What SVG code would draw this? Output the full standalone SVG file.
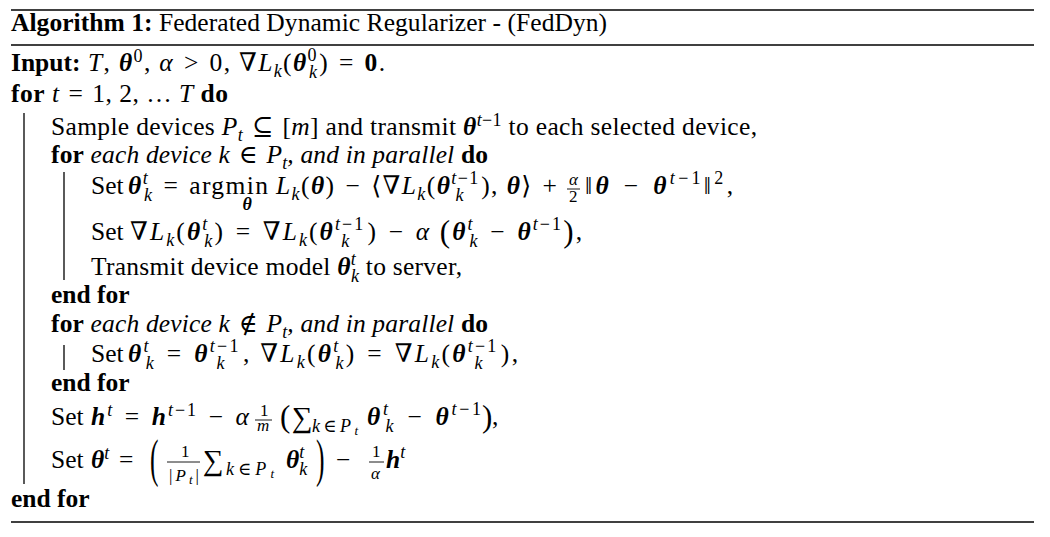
<svg xmlns="http://www.w3.org/2000/svg" width="1050" height="537" viewBox="0 0 1050 537">
<style>
text{font-family:"Liberation Serif","DejaVu Serif",serif;font-size:25.5px;fill:#000}
.b{font-weight:bold}
.i{font-style:italic}
.bi{font-weight:bold;font-style:italic}
.s{font-size:18px}
.f{font-size:17px}
.ss{font-size:13px}
.bp{font-size:31px}
.sum{font-size:29px}
.rule{stroke:#000;stroke-width:1.6}
.bar{stroke:#000;stroke-width:1.3}
.fb{stroke:#000;stroke-width:0.9}
</style>
<rect width="1050" height="537" fill="#fff"/>
<g id="rules">
<line class="rule" x1="11" y1="10" x2="1034" y2="10"/>
<line class="rule" x1="11" y1="45" x2="1034" y2="45"/>
<line class="rule" x1="11" y1="522" x2="1034" y2="522"/>
</g>
<g id="blocks">
<line class="bar" x1="24" y1="113" x2="24" y2="484"/>
<line class="bar" x1="64" y1="172" x2="64" y2="280"/>
<line class="bar" x1="64" y1="345" x2="64" y2="370"/>
</g>
<g id="title"><text x="11" y="31" textLength="596" lengthAdjust="spacing"><tspan class="b">Algorithm 1:</tspan> Federated Dynamic Regularizer - (FedDyn)</text></g>
<g id="input"><text class="b" x="11" y="71">Input:</text><text x="88" y="71" textLength="297" lengthAdjust="spacing"><tspan class="i">T</tspan>, <tspan class="bi">θ</tspan><tspan class="s" dy="-9">0</tspan><tspan dy="9">, </tspan><tspan class="i">α</tspan>&#x2004;&gt;&#x2004;0, ∇<tspan class="i">L</tspan><tspan class="s i" dy="6">k</tspan><tspan dy="-6">(</tspan><tspan class="bi">θ</tspan><tspan class="s" dy="-10">0</tspan><tspan class="s i" dx="-9" dy="17">k</tspan><tspan dx="1" dy="-7">)&#x2004;=&#x2004;</tspan><tspan class="b">0</tspan>.</text></g>
<g id="for-t"><text x="11" y="102" textLength="217" lengthAdjust="spacing"><tspan class="b">for</tspan> <tspan class="i">t</tspan>&#x2004;=&#x2004;1, 2, … <tspan class="i">T</tspan> <tspan class="b">do</tspan></text></g>
<g id="sample"><text x="51" y="135" textLength="706" lengthAdjust="spacing">Sample devices <tspan class="i">P</tspan><tspan class="s i" dy="6">t</tspan><tspan dy="-6">&#x2004;⊆&#x2004;[</tspan><tspan class="i">m</tspan>] and transmit <tspan class="bi">θ</tspan><tspan class="s" dy="-9"><tspan class="i">t</tspan>−1</tspan><tspan dy="9"> to each selected device,</tspan></text></g>
<g id="for-in"><text x="51" y="163" textLength="437" lengthAdjust="spacing"><tspan class="b">for</tspan> <tspan class="i">each device k</tspan>&#x2004;∈&#x2004;<tspan class="i">P</tspan><tspan class="s i" dy="6">t</tspan><tspan class="i" dy="-6">, and in parallel</tspan> <tspan class="b">do</tspan></text></g>
<g id="set-argmin"><text x="91" y="194">Set</text><text x="128" y="194" textLength="429" lengthAdjust="spacing"><tspan class="bi">θ</tspan><tspan class="s i" dy="-10">t</tspan><tspan class="s i" dx="-5" dy="17">k</tspan><tspan dy="-7">&#x2004;=&#x2004;argmin</tspan><tspan class="bi s" dx="-27" dy="16">θ</tspan><tspan dx="15" dy="-16"> </tspan><tspan class="i">L</tspan><tspan class="s i" dy="6">k</tspan><tspan dy="-6">(</tspan><tspan class="bi">θ</tspan>)&#x2004;−&#x2004;⟨∇<tspan class="i">L</tspan><tspan class="s i" dy="6">k</tspan><tspan dy="-6">(</tspan><tspan class="bi">θ</tspan><tspan class="s" dy="-10"><tspan class="i">t</tspan>−1</tspan><tspan class="s i" dx="-24.2" dy="17">k</tspan><tspan dx="16.2" dy="-7">), </tspan><tspan class="bi">θ</tspan>⟩&#x2004;+</text><text class="f i" x="569" y="185">α</text><line class="fb" x1="567" y1="189" x2="580" y2="189"/><text class="f" x="569" y="202">2</text><text x="585" y="194" textLength="148" lengthAdjust="spacing">‖<tspan class="bi">θ</tspan>&#x2004;−&#x2004;<tspan class="bi">θ</tspan><tspan class="s" dy="-10"><tspan class="i">t</tspan>−1</tspan><tspan dy="10">‖</tspan><tspan class="s" dy="-10">2</tspan><tspan dy="10">,</tspan></text></g>
<g id="set-grad"><text x="91" y="240">Set</text><text x="130" y="240" textLength="452" lengthAdjust="spacing">∇<tspan class="i">L</tspan><tspan class="s i" dy="6">k</tspan><tspan dy="-6">(</tspan><tspan class="bi">θ</tspan><tspan class="s i" dy="-10">t</tspan><tspan class="s i" dx="-5" dy="17">k</tspan><tspan dy="-7">)&#x2004;=&#x2004;∇</tspan><tspan class="i">L</tspan><tspan class="s i" dy="6">k</tspan><tspan dy="-6">(</tspan><tspan class="bi">θ</tspan><tspan class="s" dy="-10"><tspan class="i">t</tspan>−1</tspan><tspan class="s i" dx="-24.2" dy="17">k</tspan><tspan dx="16.2" dy="-7">)&#x2004;−&#x2004;</tspan><tspan class="i">α</tspan> <tspan class="bp" dy="2">(</tspan><tspan class="bi" dy="-2">θ</tspan><tspan class="s i" dy="-10">t</tspan><tspan class="s i" dx="-5" dy="17">k</tspan><tspan dy="-7">&#x2004;−&#x2004;</tspan><tspan class="bi">θ</tspan><tspan class="s" dy="-10"><tspan class="i">t</tspan>−1</tspan><tspan class="bp" dy="12">)</tspan><tspan dy="-2">,</tspan></text></g>
<g id="transmit"><text x="91" y="275" textLength="371" lengthAdjust="spacing">Transmit device model <tspan class="bi">θ</tspan><tspan class="s i" dy="-10">t</tspan><tspan class="s i" dx="-5" dy="17">k</tspan><tspan dy="-7"> to server,</tspan></text></g>
<g id="endfor1"><text class="b" x="51" y="303">end for</text></g>
<g id="for-notin"><text x="51" y="332" textLength="437" lengthAdjust="spacing"><tspan class="b">for</tspan> <tspan class="i">each device k</tspan>&#x2004;∉&#x2004;<tspan class="i">P</tspan><tspan class="s i" dy="6">t</tspan><tspan class="i" dy="-6">, and in parallel</tspan> <tspan class="b">do</tspan></text></g>
<g id="set-copy"><text x="91" y="362">Set</text><text x="128" y="362" textLength="390" lengthAdjust="spacing"><tspan class="bi">θ</tspan><tspan class="s i" dy="-10">t</tspan><tspan class="s i" dx="-5" dy="17">k</tspan><tspan dy="-7">&#x2004;=&#x2004;</tspan><tspan class="bi">θ</tspan><tspan class="s" dy="-10"><tspan class="i">t</tspan>−1</tspan><tspan class="s i" dx="-24.2" dy="17">k</tspan><tspan dx="16.2" dy="-7">, ∇</tspan><tspan class="i">L</tspan><tspan class="s i" dy="6">k</tspan><tspan dy="-6">(</tspan><tspan class="bi">θ</tspan><tspan class="s i" dy="-10">t</tspan><tspan class="s i" dx="-5" dy="17">k</tspan><tspan dy="-7">)&#x2004;=&#x2004;∇</tspan><tspan class="i">L</tspan><tspan class="s i" dy="6">k</tspan><tspan dy="-6">(</tspan><tspan class="bi">θ</tspan><tspan class="s" dy="-10"><tspan class="i">t</tspan>−1</tspan><tspan class="s i" dx="-24.2" dy="17">k</tspan><tspan dx="16.2" dy="-7">),</tspan></text></g>
<g id="endfor2"><text class="b" x="51" y="391">end for</text></g>
<g id="set-h"><text x="51" y="425">Set</text><text x="91" y="425" textLength="158" lengthAdjust="spacing"><tspan class="bi">h</tspan><tspan class="s i" dy="-9">t</tspan><tspan dy="9">&#x2004;=&#x2004;</tspan><tspan class="bi">h</tspan><tspan class="s" dy="-9"><tspan class="i">t</tspan>−1</tspan><tspan dy="9">&#x2004;−&#x2004;</tspan><tspan class="i">α</tspan></text><text class="f" x="260" y="416">1</text><line class="fb" x1="255" y1="420" x2="272" y2="420"/><text class="f i" x="257" y="431">m</text><text class="bp" x="280" y="427">(</text><text class="sum" x="292" y="427">∑</text><text class="s" x="312" y="432" textLength="46" lengthAdjust="spacing"><tspan class="i">k</tspan>∈<tspan class="i">P</tspan><tspan class="ss i" dy="3">t</tspan></text><text x="367" y="425" textLength="114" lengthAdjust="spacing"><tspan class="bi">θ</tspan><tspan class="s i" dy="-10">t</tspan><tspan class="s i" dx="-5" dy="17">k</tspan><tspan dy="-7">&#x2004;−&#x2004;</tspan><tspan class="bi">θ</tspan><tspan class="s" dy="-10"><tspan class="i">t</tspan>−1</tspan></text><text class="bp" x="482" y="427">)</text><text x="492" y="425">,</text></g>
<g id="set-theta"><text x="51" y="468">Set</text><text x="91" y="468"><tspan class="bi">θ</tspan><tspan class="s i" dy="-9">t</tspan><tspan x="119" dy="9">=</tspan></text><text transform="translate(150,476) scale(1,2.1)">(</text><text class="f" x="181" y="457">1</text><line class="fb" x1="167" y1="462" x2="200" y2="462"/><text class="f" x="169" y="481" textLength="30" lengthAdjust="spacing">|<tspan class="i">P</tspan><tspan class="ss i" dy="3">t</tspan><tspan dy="-3">|</tspan></text><text class="sum" x="203" y="470">∑</text><text class="s" x="226" y="475" textLength="48" lengthAdjust="spacing"><tspan class="i">k</tspan>∈<tspan class="i">P</tspan><tspan class="ss i" dy="3">t</tspan></text><text x="286" y="468"><tspan class="bi">θ</tspan><tspan class="s i" dy="-10">t</tspan><tspan class="s i" dx="-5" dy="17">k</tspan></text><text transform="translate(316,476) scale(1,2.1)">)</text><text x="336" y="468">−</text><text class="f" x="372" y="457">1</text><line class="fb" x1="369" y1="462" x2="384" y2="462"/><text class="f i" x="371" y="479">α</text><text x="386" y="468"><tspan class="bi">h</tspan><tspan class="s i" dy="-10">t</tspan></text></g>
<g id="endfor3"><text class="b" x="11" y="507">end for</text></g>
</svg>
